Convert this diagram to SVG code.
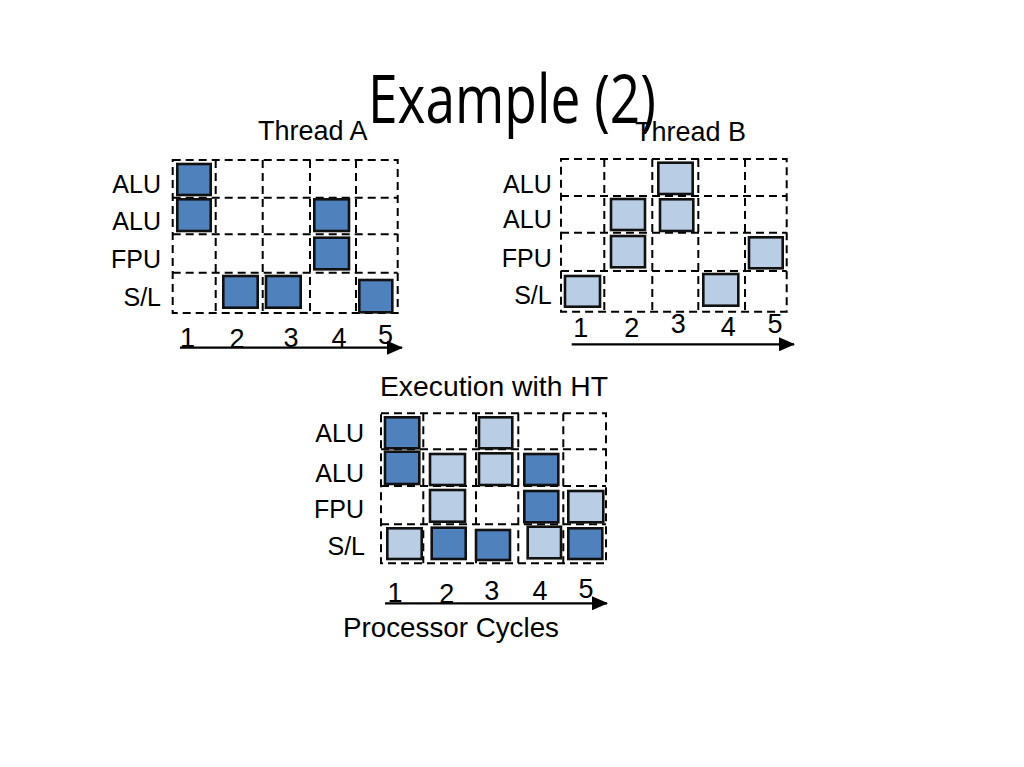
<svg xmlns="http://www.w3.org/2000/svg" width="1024" height="767" viewBox="0 0 1024 767">
<defs>
<style>
.g{fill:none;stroke:#000;stroke-width:2;stroke-dasharray:8 5}
.d{fill:#4F81BD;stroke:#111;stroke-width:2.6}
.l{fill:#B9CDE5;stroke:#111;stroke-width:2.6}
.t{font-family:"Liberation Sans",Arial,sans-serif;fill:#000}
.lb{font-size:25px;text-anchor:end}
.n{font-size:27px;text-anchor:middle}
.h{font-size:27px}
.ax{stroke:#000;stroke-width:2.2;fill:none}
</style>
<marker id="ah" markerUnits="userSpaceOnUse" markerWidth="16" markerHeight="14" refX="15" refY="7" orient="auto">
<path d="M0,0 L16,7 L0,14 Z" fill="#000"/>
</marker>
</defs>
<rect width="1024" height="767" fill="#fff"/>

<g id="threadA">
<text class="t h" x="258" y="140">Thread A</text>
<g>
<rect class="g" x="172.7" y="160" width="225" height="153"/>
<path class="g" d="M215.7,160V313M262.7,160V313M310,160V313M356,160V313M172.7,197.7H397.7M172.7,234.3H397.7M172.7,272.7H397.7"/>
</g>
<rect class="d" x="177.3" y="164" width="33.4" height="31"/>
<rect class="d" x="177.3" y="199.3" width="33.4" height="31.7"/>
<rect class="d" x="314.3" y="199.3" width="34.7" height="31.7"/>
<rect class="d" x="314.3" y="237.7" width="34.7" height="31.6"/>
<rect class="d" x="223.3" y="276" width="34.4" height="31.7"/>
<rect class="d" x="266" y="276" width="34.7" height="31.7"/>
<rect class="d" x="359.3" y="280" width="33" height="32.3"/>
<text class="t lb" x="161" y="193">ALU</text>
<text class="t lb" x="161" y="230">ALU</text>
<text class="t lb" x="161" y="268">FPU</text>
<text class="t lb" x="161" y="306">S/L</text>
<text class="t n" x="187.5" y="347">1</text>
<text class="t n" x="237" y="347.5">2</text>
<text class="t n" x="291" y="347">3</text>
<text class="t n" x="339" y="347">4</text>
<text class="t n" x="385.5" y="343.5">5</text>
</g>

<g id="threadB">
<text class="t h" x="635" y="141.3">Thread B</text>
<g>
<rect class="g" x="561" y="159" width="225.7" height="152.7"/>
<path class="g" d="M604.3,159V311.7M652.3,159V311.7M698.3,159V311.7M745,159V311.7M561,196H786.7M561,232.7H786.7M561,271H786.7"/>
</g>
<rect class="l" x="658.3" y="162.7" width="34.4" height="31.3"/>
<rect class="l" x="611" y="199" width="34" height="31"/>
<rect class="l" x="660" y="199.3" width="33.3" height="31.7"/>
<rect class="l" x="611" y="236" width="34" height="31.3"/>
<rect class="l" x="749" y="237.3" width="33.7" height="31"/>
<rect class="l" x="565" y="276" width="35" height="30.7"/>
<rect class="l" x="703.3" y="274" width="35" height="31.7"/>
<text class="t lb" x="551.7" y="193.3">ALU</text>
<text class="t lb" x="551.7" y="228">ALU</text>
<text class="t lb" x="551.7" y="266.7">FPU</text>
<text class="t lb" x="551.7" y="304.3">S/L</text>
<text class="t n" x="580.8" y="336.7">1</text>
<text class="t n" x="631.7" y="336.7">2</text>
<text class="t n" x="678.3" y="333.3">3</text>
<text class="t n" x="728.3" y="336">4</text>
<text class="t n" x="775" y="333.3">5</text>
</g>

<g id="executionHT">
<text class="t" x="380" y="396" font-size="28" textLength="228" lengthAdjust="spacingAndGlyphs">Execution with HT</text>
<g>
<rect class="g" x="381" y="413.3" width="225" height="150"/>
<path class="g" d="M423.3,413.3V563.3M476,413.3V563.3M518.3,413.3V563.3M563.3,413.3V563.3M381,449.3H606M381,486H606M381,524.3H606"/>
</g>
<rect class="d" x="385" y="417.3" width="34.3" height="31"/>
<rect class="l" x="479" y="417.3" width="33.3" height="31"/>
<rect class="d" x="385" y="451.7" width="34.3" height="32.3"/>
<rect class="l" x="430" y="454" width="35" height="31"/>
<rect class="l" x="479" y="453.3" width="33.3" height="31.7"/>
<rect class="d" x="524.3" y="454" width="34" height="31"/>
<rect class="l" x="430" y="490" width="35" height="31.7"/>
<rect class="d" x="524.3" y="491" width="34" height="31.3"/>
<rect class="l" x="568.3" y="491" width="35" height="31.3"/>
<rect class="l" x="387.3" y="528.3" width="34.4" height="30.7"/>
<rect class="d" x="431.7" y="527.7" width="34" height="31.3"/>
<rect class="d" x="476" y="530" width="34" height="30"/>
<rect class="l" x="527.7" y="526.7" width="33.3" height="31.6"/>
<rect class="d" x="568.3" y="528.3" width="34" height="30.7"/>
<text class="t lb" x="364" y="442.3">ALU</text>
<text class="t lb" x="364" y="481.7">ALU</text>
<text class="t lb" x="364" y="518.3">FPU</text>
<text class="t lb" x="365" y="555">S/L</text>
<text class="t n" x="395" y="601.7">1</text>
<text class="t n" x="446.7" y="603.3">2</text>
<text class="t n" x="491.7" y="600">3</text>
<text class="t n" x="540" y="600">4</text>
<text class="t n" x="586" y="598.3">5</text>
<text class="t" x="343" y="636.7" font-size="28" textLength="216" lengthAdjust="spacingAndGlyphs">Processor Cycles</text>
</g>

<g id="connectors">
<line class="ax" x1="180" y1="347.7" x2="402" y2="347.7" marker-end="url(#ah)"/>
<line class="ax" x1="571.7" y1="344.3" x2="794" y2="344.3" marker-end="url(#ah)"/>
<line class="ax" x1="385" y1="603.3" x2="607" y2="603.3" marker-end="url(#ah)"/>
</g>

<text transform="translate(368,123) scale(1,1.18)" x="0" y="0" font-family="'Open Sans','Noto Sans',sans-serif" font-size="57" textLength="288" lengthAdjust="spacingAndGlyphs" fill="#000">Example (2)</text>
</svg>
